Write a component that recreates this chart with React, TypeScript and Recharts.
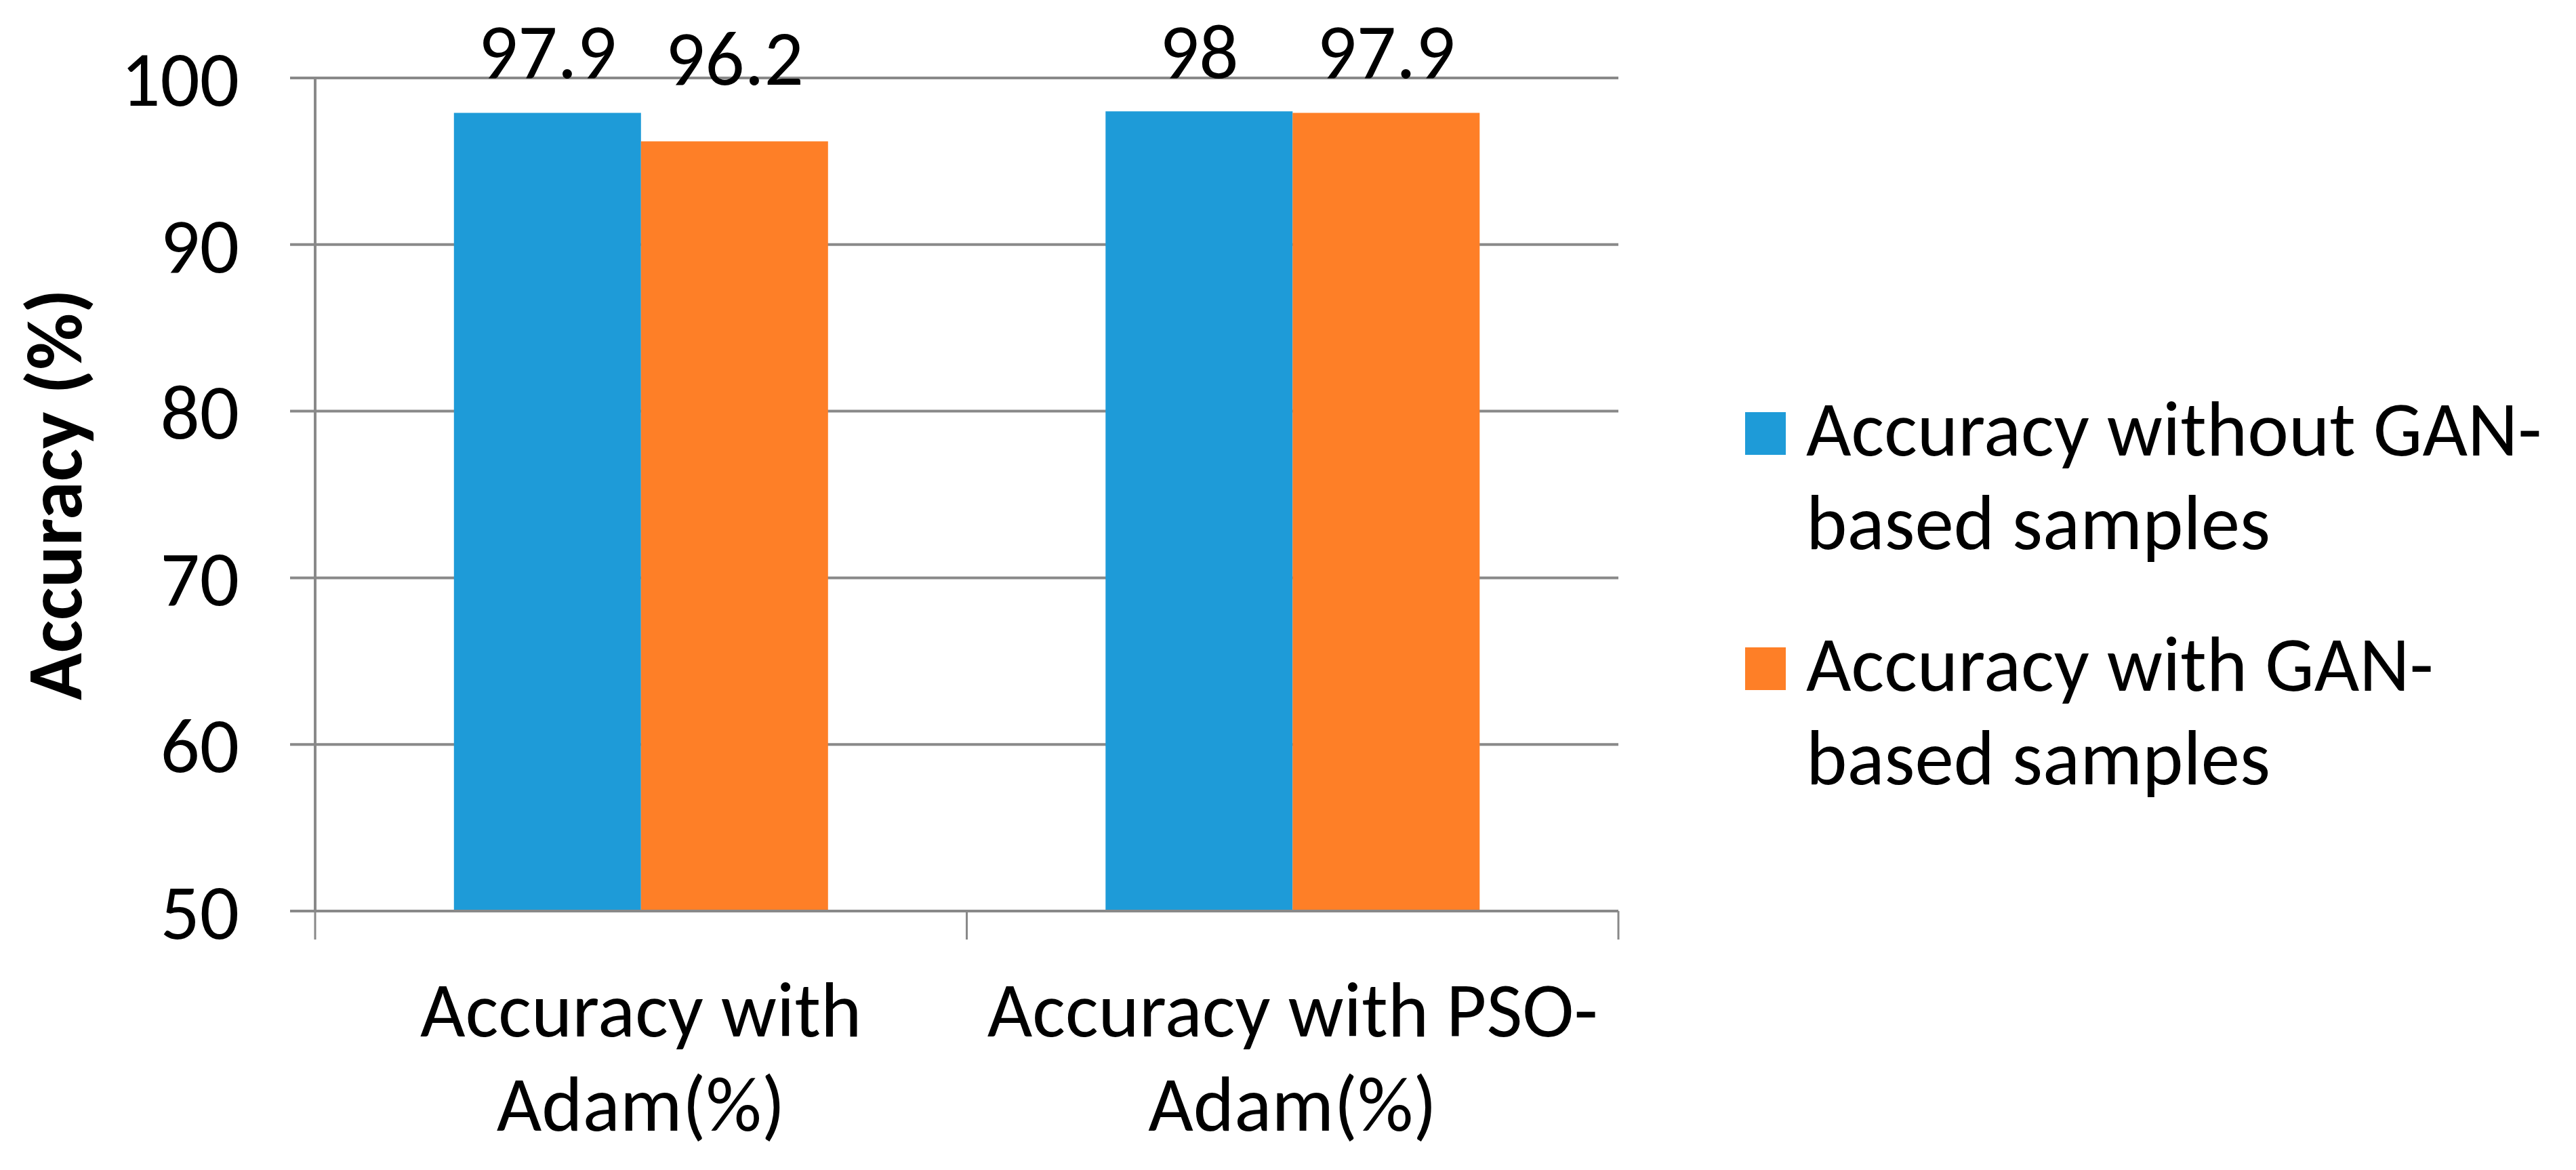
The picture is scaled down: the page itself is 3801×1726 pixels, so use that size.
import {
  BarChart,
  Bar,
  XAxis,
  YAxis,
  CartesianGrid,
  Legend,
  LabelList,
} from "recharts";

const categories = ["Accuracy with\nAdam(%)", "Accuracy with PSO-\nAdam(%)"];
const withoutGan = [97.9, 98];
const withGan = [96.2, 97.9];
const seriesNames = [
  "Accuracy without GAN-based samples",
  "Accuracy with GAN-based samples",
];
const yTicks = [50, 60, 70, 80, 90, 100];

const data = categories.map((c, i) => ({
  category: c,
  without: withoutGan[i],
  with: withGan[i],
}));

const W = 3801;
const H = 1726;
const margin = { top: 115, right: 1413, bottom: 0, left: 0 };
const Y_AXIS_W = 465;
const X_AXIS_H = 382;
const FONT = "Carlito, Calibri, 'Liberation Sans', sans-serif";
const GRID = "#898989";
const BLUE = "#1e9bd8";
const ORANGE = "#fe7f27";
const HALF_BAND =
  (W - margin.left - margin.right - Y_AXIS_W) / categories.length / 2;

const XTick = (props: any) => {
  const { x, y, payload, index } = props;
  const lines = String(payload.value).split("\n");
  return (
    <g>
      <line x1={x - HALF_BAND} x2={x - HALF_BAND} y1={y} y2={y + 42} stroke={GRID} strokeWidth={3} />
      {index === categories.length - 1 && (
        <line x1={x + HALF_BAND} x2={x + HALF_BAND} y1={y} y2={y + 42} stroke={GRID} strokeWidth={3} />
      )}
      <text x={x} y={y + 185} textAnchor="middle" fontFamily={FONT} fontSize={115} fill="#000">
        {lines.map((l, i) => (
          <tspan key={i} x={x} dy={i === 0 ? 0 : 139}>
            {l}
          </tspan>
        ))}
      </text>
    </g>
  );
};

// labels sit above the bar but never above the plot's top line
const ValueLabel = (props: any) => {
  const { x, y, width, value } = props;
  const baseline = Math.max(y - 83, margin.top);
  return (
    <text x={x + width / 2} y={baseline} textAnchor="middle" fontFamily={FONT} fontSize={115} fill="#000">
      {value}
    </text>
  );
};

const YTitle = (props: any) => {
  const { viewBox } = props;
  const cx = 120;
  const cy = viewBox.y + viewBox.height / 2;
  return (
    <text
      x={cx}
      y={cy}
      transform={`rotate(-90, ${cx}, ${cy})`}
      textAnchor="middle"
      fontFamily={FONT}
      fontWeight="bold"
      fontSize={115}
      fill="#000"
    >
      Accuracy (%)
    </text>
  );
};

const LegendBox = (props: any) => {
  const items = [...(props.payload || [])].sort(
    (a: any, b: any) => seriesNames.indexOf(a.value) - seriesNames.indexOf(b.value)
  );
  return (
    <svg width={1300} height={700} style={{ display: "block" }}>
      {items.map((entry: any, i: number) => {
        const lines = String(entry.value).replace("GAN-", "GAN-\n").split("\n");
        const top = i * 347;
        return (
          <g key={i}>
            <rect x={75} y={68 + top} width={60} height={63} fill={entry.color} />
            {lines.map((l, j) => (
              <text key={j} x={165} y={132 + top + j * 138} fontFamily={FONT} fontSize={115} fill="#000">
                {l}
              </text>
            ))}
          </g>
        );
      })}
    </svg>
  );
};

export default function App() {
  return (
    <div style={{ position: "relative", width: W, height: H, background: "#fff" }}>
      <style>{`body{margin:0;background:#fff}`}</style>
      <BarChart
        width={W}
        height={H}
        data={data}
        margin={margin}
        barCategoryGap="21.3%"
        barGap={0}
      >
        <CartesianGrid vertical={false} stroke={GRID} strokeWidth={4} />
        <XAxis
          dataKey="category"
          interval={0}
          height={X_AXIS_H}
          tickLine={false}
          tickSize={0}
          tickMargin={0}
          axisLine={{ stroke: GRID, strokeWidth: 4 }}
          tick={<XTick />}
        />
        <YAxis
          width={Y_AXIS_W}
          domain={[50, 100]}
          ticks={yTicks}
          interval={0}
          allowDataOverflow
          tickSize={37}
          tickMargin={75}
          tickLine={{ stroke: GRID, strokeWidth: 4 }}
          axisLine={{ stroke: GRID, strokeWidth: 4 }}
          tick={{ fill: "#000", fontSize: 115, fontFamily: FONT }}
          label={<YTitle />}
        />
        <Legend
          layout="vertical"
          align="center"
          verticalAlign="middle"
          wrapperStyle={{ left: 2500, top: 540, width: 1300, height: 700 }}
          content={<LegendBox />}
        />
        <Bar dataKey="without" name={seriesNames[0]} fill={BLUE} isAnimationActive={false}>
          <LabelList dataKey="without" content={<ValueLabel />} />
        </Bar>
        <Bar dataKey="with" name={seriesNames[1]} fill={ORANGE} isAnimationActive={false}>
          <LabelList dataKey="with" content={<ValueLabel />} />
        </Bar>
      </BarChart>
    </div>
  );
}
